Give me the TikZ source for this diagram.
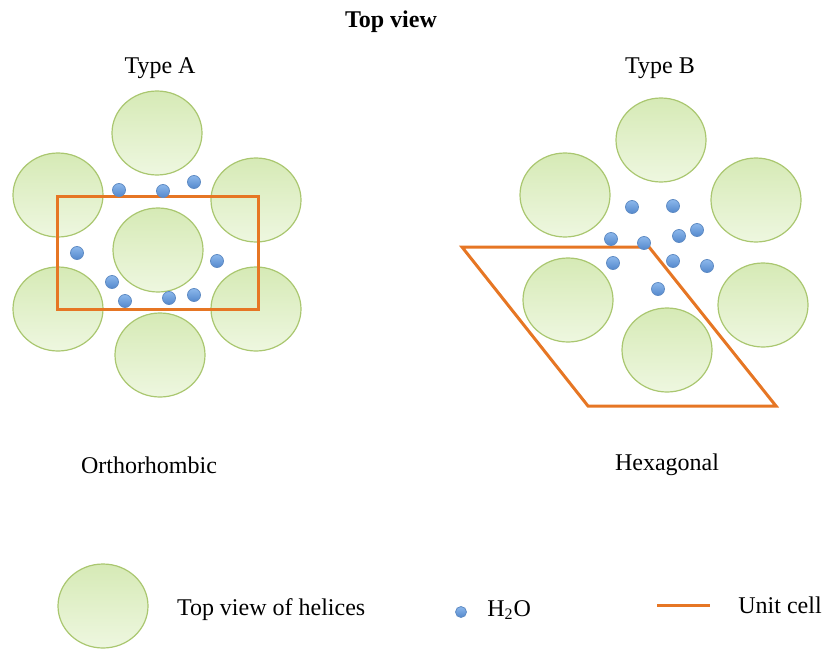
\documentclass[tikz,border=0pt]{standalone}
\usepackage{fontspec}
\setmainfont{Liberation Serif}
\usetikzlibrary{shapes.geometric,positioning}
\definecolor{helixln}{RGB}{170,199,112}
\definecolor{helixtop}{RGB}{214,234,182}
\definecolor{helixbot}{RGB}{238,247,224}
\definecolor{waterln}{RGB}{96,140,196}
\definecolor{watertop}{RGB}{140,184,236}
\definecolor{waterbot}{RGB}{84,136,204}
\definecolor{cellcolor}{RGB}{230,118,36}
\tikzset{
  helix/.style={ellipse, draw=helixln, line width=0.6pt, top color=helixtop, bottom color=helixbot, minimum width=45pt, minimum height=42pt, inner sep=0pt},
  water/.style={circle, draw=waterln, line width=0.4pt, top color=watertop, bottom color=waterbot, minimum size=6.5pt, inner sep=0pt},
  cellln/.style={line width=1.5pt, cellcolor, line join=miter},
  lbl/.style={font=\fontsize{12}{14}\selectfont, inner sep=0pt},
}

\begin{document}
\begin{tikzpicture}[x=0.5pt, y=-0.5pt]
  \useasboundingbox (0,0) rectangle (829,648);
  \node[lbl, font=\fontsize{12}{14}\selectfont\bfseries] (title) at (391,22) {Top view};
  \node[lbl] (typeA) at (160,68) {Type A};
  \node[lbl] (typeB) at (660,68) {Type B};
  % type A, orthorhombic
  \node[helix] (hAtop) at (157,133) {};
  \node[helix] (hAul) at (58,195) {};
  \node[helix] (hAur) at (256,200) {};
  \node[helix] (hAc) at (158,250) {};
  \node[helix] (hAll) at (58,309) {};
  \node[helix] (hAlr) at (256,309) {};
  \node[helix] (hAbot) at (160,355) {};
  \draw[cellln] (57,196) rectangle (258,309);
  \foreach \x/\y [count=\i] in {119/190, 163/191, 194/182, 77/253, 217/261,
      112/282, 125/301, 169/298, 194/295}
    \node[water] (wA\i) at (\x,\y) {};
  % type B, hexagonal
  \node[helix] (hBtop) at (661,140) {};
  \node[helix] (hBul) at (565,195) {};
  \node[helix] (hBur) at (756,200) {};
  \node[helix] (hBll) at (568,300) {};
  \node[helix] (hBlr) at (763,305) {};
  \node[helix] (hBbot) at (667,350) {};
  \coordinate (cB1) at (462,247);
  \coordinate (cB2) at (649,247);
  \coordinate (cB3) at (776,406);
  \coordinate (cB4) at (588,406);
  \draw[cellln] (cB1) -- (cB2) -- (cB3) -- (cB4) -- cycle;
  \foreach \x/\y [count=\i] in {632/207, 673/206, 697/230, 679/236, 611/239,
      644/243, 613/263, 673/261, 707/266, 658/289}
    \node[water] (wB\i) at (\x,\y) {};
  \node[lbl] (ortho) at (149,465) {Orthorhombic};
  \node[lbl] (hexa) at (667,465) {Hexagonal};
  % legend
  \node[helix] (lhelix) at (103,606) {};
  \node[lbl, right=14pt of lhelix, yshift=-2pt] (lhelixtxt) {Top view of helices};
  \node[water, minimum size=5.5pt] (lwater) at (461,612) {};
  \node[lbl, right=10pt of lwater, yshift=1pt] (lwatertxt) {H\textsubscript{2}O};
  \coordinate (lcellA) at (657,605);
  \coordinate (lcellB) at (710,605);
  \draw[cellln] (lcellA) -- (lcellB);
  \node[lbl, right=14pt of lcellB] (lcelltxt) {Unit cell};
\end{tikzpicture}
\end{document}
